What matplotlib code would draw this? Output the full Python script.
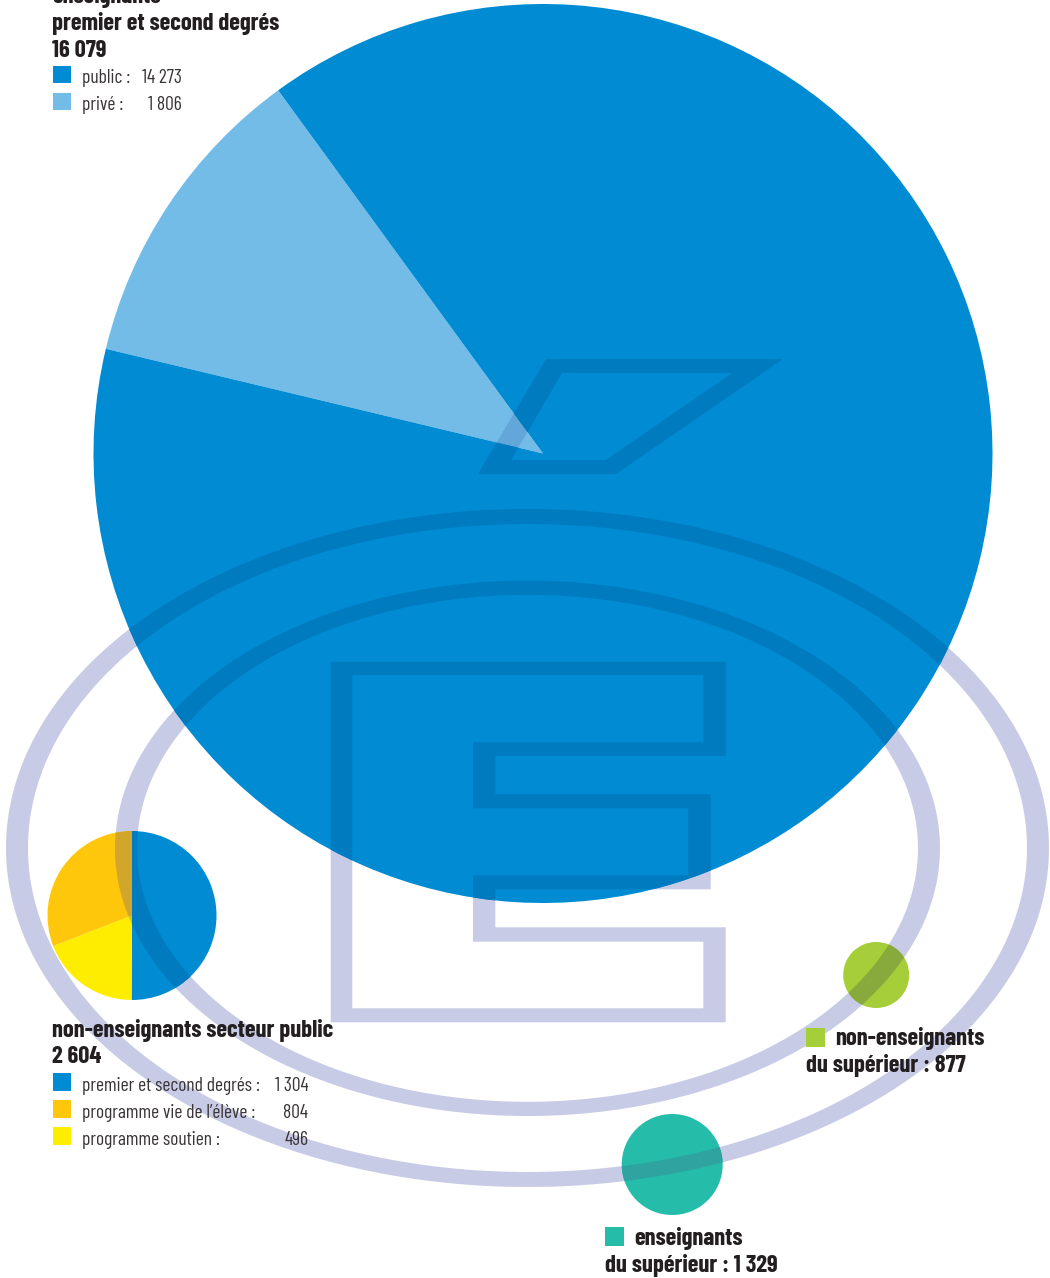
import numpy as np
import matplotlib
matplotlib.use("Agg")
import matplotlib.pyplot as plt
from matplotlib.path import Path
from matplotlib.patches import PathPatch, Rectangle

# ---------------- data ----------------
ens_total = "16 079"
ens_labels = ["public", "privé"]
ens_values = [14273, 1806]
ens_value_txt = ["14 273", "1 806"]

nonens_total = "2 604"
nonens_labels = ["premier et second degrés", "programme vie de l\u2019élève", "programme soutien"]
nonens_values = [1304, 804, 496]
nonens_value_txt = ["1 304", "804", "496"]

sup_ens_value = [1329]
sup_ens_txt = "1 329"
sup_nonens_value = [877]
sup_nonens_txt = "877"

# ---------------- style ----------------
W, H = 1050, 1278
BLUE = "#008bd2"
LBLUE = "#74bce8"
ORANGE = "#fec70c"
YELLOW = "#ffed00"
GREEN = "#a6ce39"
TEAL = "#25bcaa"
LAV = "#c8cbe6"
OVER = {BLUE: "#007bc0", LBLUE: "#63a6da", ORANGE: "#d1a62a", YELLOW: "#d8c41e",
        GREEN: "#88aa3d", TEAL: "#2ea3a0"}
TXT = "#231f20"
FAM = ["Barlow Condensed", "DejaVu Sans"]
BOLD = dict(family=FAM, weight="bold", color=TXT)
LIGHT = dict(family=FAM, weight="normal", color="#3a3536")

def Y(y):
    return H - y

fig = plt.figure(figsize=(W / 100, H / 100), dpi=100)
ax = fig.add_axes([0, 0, 1, 1])

# ---------------- decoration (rings, E, accent) ----------------
def ellipse_pts(cx, cy, a, b, reverse=False):
    t = np.linspace(0, 2 * np.pi, 361)
    if reverse:
        t = t[::-1]
    return np.column_stack([cx + a * np.cos(t), Y(cy) + b * np.sin(t)])

def poly_pts(pts, reverse=False):
    p = [(x, Y(y)) for x, y in pts]
    if reverse:
        p = p[::-1]
    p.append(p[0])
    return np.array(p)

def closed_path(pts):
    codes = [Path.MOVETO] + [Path.LINETO] * (len(pts) - 2) + [Path.CLOSEPOLY]
    return Path(pts, codes)

paths = [
    closed_path(ellipse_pts(527.5, 848, 521.5, 339)),
    closed_path(ellipse_pts(527.5, 848, 499.5, 324, reverse=True)),
    closed_path(ellipse_pts(527.5, 848.3, 412.5, 267.7)),
    closed_path(ellipse_pts(527.5, 848.3, 390.5, 253.5, reverse=True)),
]
E_outer = [(330.7, 661.7), (725.7, 661.7), (725.7, 756), (495.3, 756), (495.3, 794.3),
           (710.7, 794.3), (710.7, 889.3), (495.3, 889.3), (495.3, 927.3), (725.7, 927.3),
           (725.7, 1022.3), (330.7, 1022.3)]
E_inner = [(352.3, 675), (703.3, 675), (703.3, 742.3), (473, 742.3), (473, 808.3),
           (688.3, 808.3), (688.3, 875.3), (473, 875.3), (473, 941.7), (703.3, 941.7),
           (703.3, 1008.3), (352.3, 1008.3)]
P_outer = [(546, 359), (783, 359), (616, 474), (478, 474)]
P_inner = [(562, 373), (732, 373), (606, 460), (511, 460)]
paths += [closed_path(poly_pts(E_outer)), closed_path(poly_pts(E_inner, reverse=True)),
          closed_path(poly_pts(P_outer)), closed_path(poly_pts(P_inner, reverse=True))]
deco = Path.make_compound_path(*paths)

ax.add_patch(PathPatch(deco, facecolor=LAV, edgecolor="none", zorder=1))

# ---------------- pies ----------------
wp = dict(linewidth=0, zorder=2)
big, _ = ax.pie([ens_values[1], ens_values[0]], colors=[LBLUE, BLUE], center=(543, Y(453.5)),
                radius=449.5, startangle=126.1, counterclock=True, wedgeprops=wp, frame=True)
# clockwise from top: premier et second degrés, soutien, vie de l'élève
small_vals = [nonens_values[0], nonens_values[2], nonens_values[1]]
small, _ = ax.pie(small_vals, colors=[BLUE, YELLOW, ORANGE], center=(132, Y(915.5)),
                  radius=84.5, startangle=90, counterclock=False, wedgeprops=wp, frame=True)
teal, _ = ax.pie(sup_ens_value, colors=[TEAL], center=(672.2, Y(1164.5)), radius=50.5,
                 wedgeprops=wp, frame=True)
green, _ = ax.pie(sup_nonens_value, colors=[GREEN], center=(876.2, Y(975)), radius=33,
                  wedgeprops=wp, frame=True)

for w in list(big) + list(small) + list(teal) + list(green):
    fc = matplotlib.colors.to_hex(w.get_facecolor())
    key = [k for k in OVER if k.lower() == fc.lower()][0]
    pp = PathPatch(deco, facecolor=OVER[key], edgecolor="none", zorder=3)
    ax.add_patch(pp)
    pp.set_clip_path(w)

ax.set_xlim(0, W)
ax.set_ylim(0, H)
ax.set_aspect("equal")
ax.axis("off")

# ---------------- texts ----------------
def square(x0, y0, x1, y1, color):
    ax.add_patch(Rectangle((x0, Y(y1)), x1 - x0, y1 - y0, facecolor=color,
                           edgecolor="none", zorder=5))

BS = 17.7
LS = 14
ax.text(52, Y(3), "enseignants", fontsize=BS, va="baseline", zorder=6, **BOLD)
ax.text(52, Y(30), "premier et second degrés", fontsize=BS, va="baseline", zorder=6, **BOLD)
ax.text(52, Y(57), ens_total, fontsize=BS, va="baseline", zorder=6, **BOLD)
for i, (lab, vt, col) in enumerate(zip(ens_labels, ens_value_txt, [BLUE, LBLUE])):
    yb = 83.3 + 27 * i
    square(52.7, yb - 17.6, 71, yb, col)
    ax.text(82, Y(yb), lab + " :", fontsize=LS, va="baseline", zorder=6, **LIGHT)
    ax.text(182, Y(yb), vt, fontsize=LS, va="baseline", ha="right", zorder=6, **LIGHT)

ax.text(52, Y(1036.7), "non-enseignants secteur public", fontsize=BS, va="baseline", zorder=6, **BOLD)
ax.text(52, Y(1063.3), nonens_total, fontsize=BS, va="baseline", zorder=6, **BOLD)
for i, (lab, vt, col) in enumerate(zip(nonens_labels, nonens_value_txt, [BLUE, ORANGE, YELLOW])):
    yb = 1091 + 27 * i
    square(52.7, yb - 17.6, 71, yb, col)
    ax.text(82, Y(yb), lab + " :", fontsize=LS, va="baseline", zorder=6, **LIGHT)
    ax.text(308.5, Y(yb), vt, fontsize=LS, va="baseline", ha="right", zorder=6, **LIGHT)

square(806, 1028, 825, 1047, GREEN)
ax.text(835, Y(1045.5), "non-enseignants", fontsize=BS, va="baseline", zorder=6, **BOLD)
ax.text(806, Y(1071.7), "du supérieur : " + sup_nonens_txt, fontsize=BS, va="baseline", zorder=6, **BOLD)

square(605, 1227, 623.5, 1245.7, TEAL)
ax.text(634.3, Y(1245.5), "enseignants", fontsize=BS, va="baseline", zorder=6, **BOLD)
ax.text(605, Y(1271.7), "du supérieur : " + sup_ens_txt, fontsize=BS, va="baseline", zorder=6, **BOLD)

fig.savefig("out.png", dpi=100, facecolor="white")
